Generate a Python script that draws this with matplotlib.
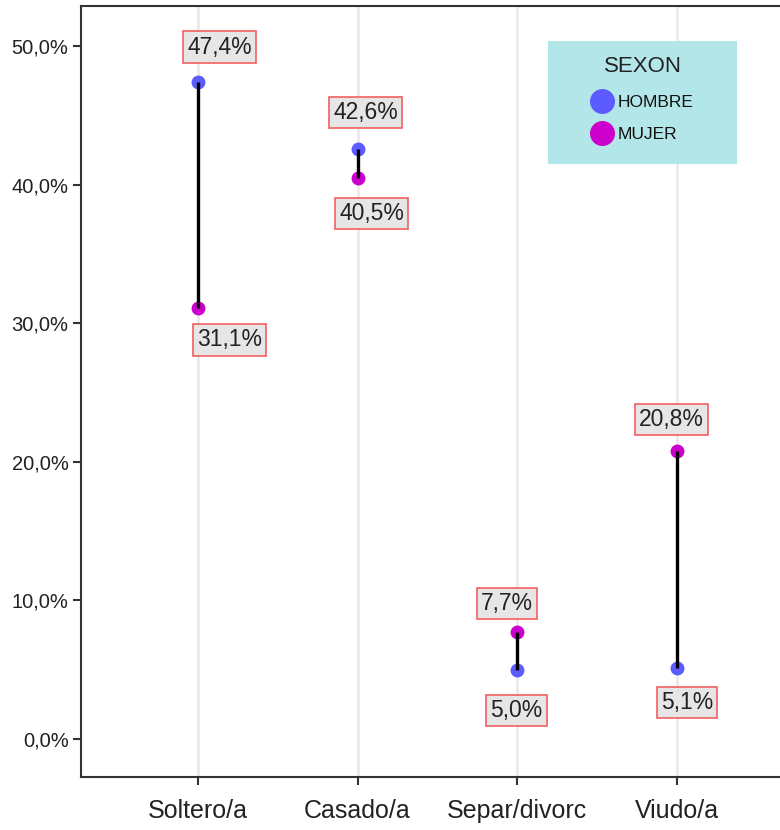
import matplotlib
matplotlib.use("Agg")
import matplotlib.pyplot as plt
from matplotlib.lines import Line2D
from matplotlib.patches import Rectangle

plt.rcParams['font.family'] = ['Liberation Sans', 'DejaVu Sans']

# data
categorias = ['Soltero/a', 'Casado/a', 'Separ/divorc', 'Viudo/a']
hombre = [47.4, 42.6, 5.0, 5.1]
mujer = [31.1, 40.5, 7.7, 20.8]
yticks = [0, 10, 20, 30, 40, 50]

c_hombre = '#5B5BFF'
c_mujer = '#CC00CC'

# label offsets in pixels (dx, dy) -- hombre / mujer
off_h = [(22, 35), (8, 36), (-1, -41), (10, -34)]
off_m = [(32, -32), (14, -36), (-10, 29), (-6, 31)]

def fmt(v):
    return ('%.1f%%' % v).replace('.', ',')

fig = plt.figure(figsize=(7.8, 8.3), dpi=100)
ax = fig.add_axes([81/780, 53/830, 699/780, 771/830])

x = list(range(len(categorias)))

for xi in x:
    ax.axvline(xi, color='#E8E8E8', lw=1.8, zorder=0)

ax.vlines(x, hombre, mujer, color='black', lw=2.4, zorder=3)
ax.plot(x, hombre, 'o', color=c_hombre, ms=10, mec='none', zorder=2)
ax.plot(x, mujer, 'o', color=c_mujer, ms=10, mec='none', zorder=2)

box = dict(boxstyle='square,pad=0.18', fc='#E6E6E6', ec='#F06060', lw=1.2)
for xi, v, (dx, dy) in zip(x, hombre, off_h):
    ax.annotate(fmt(v), (xi, v), xytext=(dx, dy), textcoords='offset pixels',
                ha='center', va='center', fontsize=16.5, color='#222222',
                bbox=box, zorder=5)
for xi, v, (dx, dy) in zip(x, mujer, off_m):
    ax.annotate(fmt(v), (xi, v), xytext=(dx, dy), textcoords='offset pixels',
                ha='center', va='center', fontsize=16.5, color='#222222',
                bbox=box, zorder=5)

ax.set_xlim(-0.731, 3.644)
ax.set_ylim(-2.74, 52.89)
ax.set_xticks(x)
ax.set_xticklabels(categorias, fontsize=18, color='#222222')
ax.set_yticks(yticks)
ax.set_yticklabels([('%.1f%%' % t).replace('.', ',') for t in yticks],
                   fontsize=14.5, color='#222222')
ax.tick_params(axis='both', direction='out', length=6, width=1.5, color='#333333')
ax.tick_params(axis='x', pad=10)
ax.tick_params(axis='y', pad=3)

for s in ['left', 'bottom', 'top']:
    ax.spines[s].set_color('#333333')
    ax.spines[s].set_linewidth(1.5)
ax.spines['right'].set_visible(False)

# legend
ax.add_patch(Rectangle((0.668, 0.795), 0.2704, 0.1595, transform=ax.transAxes,
                       fc='#B3E6E8', ec='none', zorder=4))
handles = [Line2D([], [], marker='o', ls='none', color=c_hombre, ms=18, mec='none'),
           Line2D([], [], marker='o', ls='none', color=c_mujer, ms=18, mec='none')]
leg = ax.legend(handles, ['HOMBRE', 'MUJER'], title='SEXON', loc='upper center',
                bbox_to_anchor=(0.8033, 0.946), frameon=False, fontsize=12.5,
                title_fontsize=16, labelspacing=1.0, handletextpad=0.3,
                handlelength=1.2, borderpad=0)
leg.set_zorder(6)
leg.get_title().set_color('#222222')
for t in leg.get_texts():
    t.set_color('#111111')

fig.savefig('out.png', dpi=100)
